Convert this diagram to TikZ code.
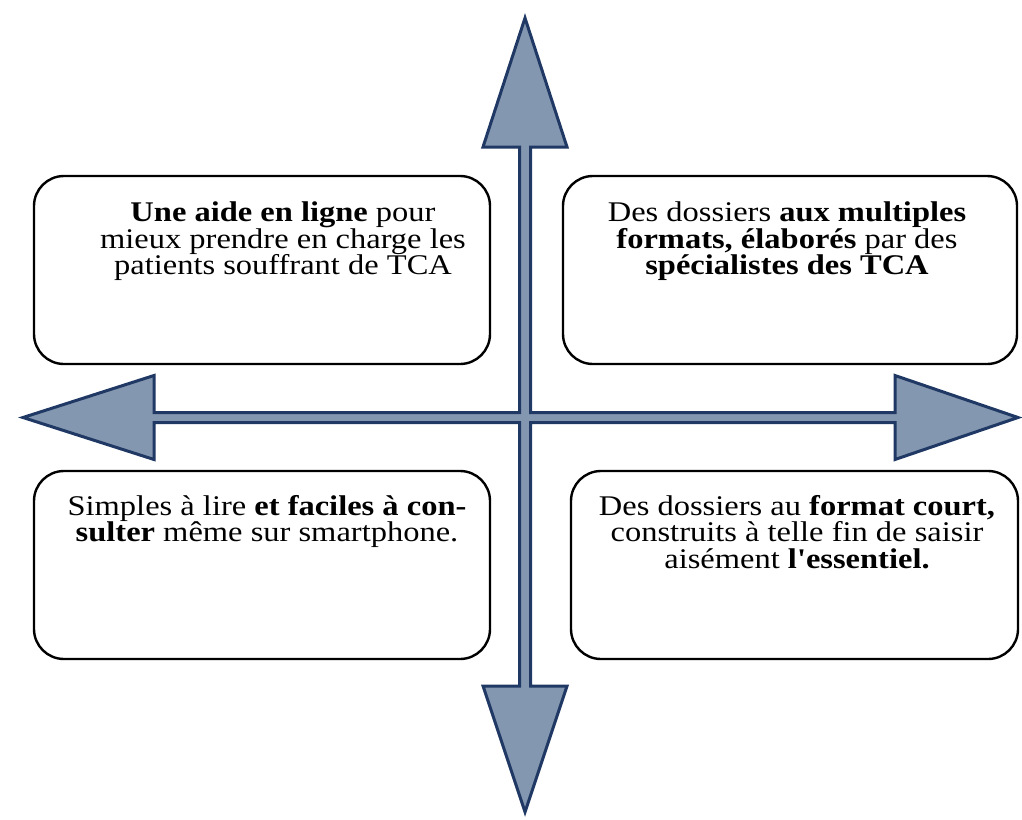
\documentclass[tikz,border=0pt]{standalone}
\usepackage{fontspec}
\setmainfont{Liberation Serif}[FakeStretch=1.14,Ligatures=TeXOff]
\definecolor{fondcroix}{HTML}{8497B0}
\definecolor{bordcroix}{HTML}{203864}

\begin{document}
\begin{tikzpicture}[x=1pt, y=-1pt,
	boite/.style={line width=2.4pt, rounded corners=30pt},
	texte/.style={anchor=north, align=center, inner sep=0pt, font=\fontsize{28.5}{26.5}\selectfont}]
			%%%%% START %%%%%
			
			\useasboundingbox (0, 0) rectangle (1022, 819);
			
			\draw[fill=fondcroix, draw=bordcroix, line width=3pt, line join=miter] (525, 18) -- (567, 147) -- (530.5, 147) -- (530.5, 412.5) -- (895, 412.5) -- (895, 375.5) -- (1018, 417.5) -- (895, 459.5) -- (895, 422.5) -- (530.5, 422.5) -- (530.5, 686) -- (567, 686) -- (525, 812) -- (483, 686) -- (519.5, 686) -- (519.5, 422.5) -- (154, 422.5) -- (154, 459.5) -- (23, 417.5) -- (154, 375.5) -- (154, 412.5) -- (519.5, 412.5) -- (519.5, 147) -- (483, 147) -- cycle;
			
			\draw[boite] (34, 176) rectangle (490, 364);
			\draw[boite] (563, 176) rectangle (1017, 364);
			\draw[boite] (34, 471) rectangle (490, 659);
			\draw[boite] (571, 471) rectangle (1018, 659);
			
			\node[texte] (aide) at (283, 202) {\textbf{Une aide en ligne} pour\\mieux prendre en charge les\\patients souffrant de TCA};
			\node[texte] (formats) at (787, 202) {Des dossiers \textbf{aux multiples}\\\textbf{formats, élaborés} par des\\\textbf{spécialistes des TCA}};
			\node[texte] (lecture) at (267, 495) {Simples à lire \textbf{et faciles à con-}\\\textbf{sulter} même sur smartphone.};
			\node[texte] (court) at (797, 495) {Des dossiers au \textbf{format court,}\\construits à telle fin de saisir\\aisément \textbf{l'essentiel.}};
			
			%%%%% END %%%%%
\end{tikzpicture}
\end{document}
